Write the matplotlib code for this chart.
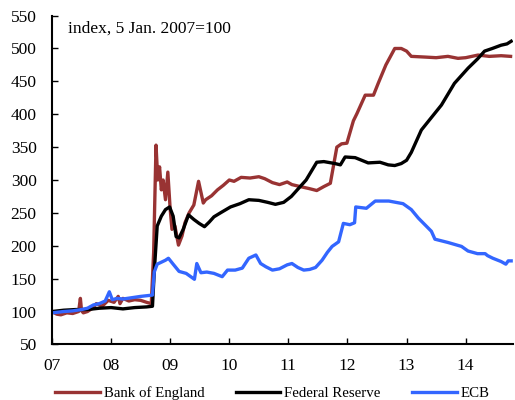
import matplotlib.pyplot as plt

plt.rcParams['font.family'] = ['Liberation Serif', 'DejaVu Serif']

# Central bank balance sheets, index 5 Jan. 2007 = 100
boe_t = [2007.00, 2007.08, 2007.15, 2007.25, 2007.35, 2007.45, 2007.48, 2007.50, 2007.53,
         2007.60, 2007.70, 2007.75, 2007.85, 2007.95, 2008.05, 2008.12, 2008.15, 2008.20,
         2008.30, 2008.40, 2008.50, 2008.60, 2008.68, 2008.72, 2008.76, 2008.79, 2008.82,
         2008.85, 2008.88, 2008.92, 2008.96, 2009.00, 2009.03, 2009.08, 2009.14, 2009.20,
         2009.25, 2009.32, 2009.40, 2009.48, 2009.56, 2009.60, 2009.70, 2009.80, 2009.90,
         2010.00, 2010.08, 2010.20, 2010.35, 2010.50, 2010.60, 2010.73, 2010.85, 2010.98,
         2011.06, 2011.20, 2011.35, 2011.48, 2011.60, 2011.71, 2011.76, 2011.82, 2011.90,
         2011.99, 2012.10, 2012.16, 2012.30, 2012.44, 2012.52, 2012.65, 2012.80, 2012.91,
         2013.00, 2013.08, 2013.30, 2013.50, 2013.70, 2013.87, 2014.00, 2014.21, 2014.40,
         2014.60, 2014.76]
boe_v = [100, 96, 95, 98, 97, 100, 120, 101, 98,
         100, 106, 112, 108, 117, 114, 123, 112, 120,
         116, 118, 117, 114, 112, 190, 353, 300, 320,
         285, 300, 270, 312, 255, 225, 230, 201, 215,
         235, 250, 262, 298, 265, 270, 276, 285, 292,
         300, 298, 304, 303, 305, 302, 296, 293, 297,
         293, 290, 287, 284, 290, 295, 320, 350, 355,
         356, 390, 401, 429, 429, 447, 475, 500, 500,
         496, 488, 487, 486, 488, 485, 486, 490, 488,
         489, 488]

fed_t = [2007.00, 2007.20, 2007.40, 2007.60, 2007.80, 2008.00, 2008.20, 2008.40, 2008.60,
         2008.70, 2008.73, 2008.78, 2008.85, 2008.92, 2008.99, 2009.05, 2009.10, 2009.15,
         2009.22, 2009.31, 2009.40, 2009.49, 2009.58, 2009.66, 2009.74, 2009.85, 2010.02,
         2010.18, 2010.33, 2010.50, 2010.65, 2010.78, 2010.92, 2011.05, 2011.15, 2011.30,
         2011.48, 2011.60, 2011.79, 2011.88, 2011.96, 2012.13, 2012.35, 2012.55, 2012.69,
         2012.80, 2012.91, 2013.00, 2013.08, 2013.25, 2013.42, 2013.59, 2013.81, 2014.04,
         2014.20, 2014.32, 2014.45, 2014.60, 2014.70, 2014.77]
fed_v = [100, 102, 103, 103, 105, 106, 104, 106, 107,
         108, 160, 230, 245, 255, 259, 245, 214, 212,
         225, 247, 240, 234, 229, 236, 244, 250, 259,
         264, 270, 269, 266, 263, 266, 275, 285, 300,
         327, 328, 325, 323, 335, 334, 326, 327, 323,
         322, 325, 330, 342, 376, 395, 414, 447, 470,
         484, 496, 500, 505, 507, 511]

ecb_t = [2007.00, 2007.10, 2007.20, 2007.35, 2007.50, 2007.60, 2007.70, 2007.80, 2007.90,
         2007.97, 2008.02, 2008.10, 2008.20, 2008.35, 2008.50, 2008.60, 2008.70, 2008.73,
         2008.78, 2008.85, 2008.92, 2008.97, 2009.05, 2009.15, 2009.27, 2009.41, 2009.45,
         2009.52, 2009.62, 2009.74, 2009.88, 2009.97, 2010.10, 2010.22, 2010.33, 2010.45,
         2010.53, 2010.62, 2010.73, 2010.85, 2010.98, 2011.06, 2011.16, 2011.26, 2011.36,
         2011.46, 2011.57, 2011.66, 2011.74, 2011.85, 2011.93, 2012.04, 2012.12, 2012.14,
         2012.32, 2012.47, 2012.70, 2012.94, 2013.08, 2013.20, 2013.42, 2013.48, 2013.70,
         2013.93, 2014.04, 2014.20, 2014.33, 2014.37, 2014.46, 2014.60, 2014.68, 2014.72,
         2014.77]
ecb_v = [98, 99, 100, 101, 103, 105, 110, 112, 116,
         130, 118, 120, 119, 121, 123, 124, 125, 160,
         172, 175, 178, 181, 172, 161, 158, 149, 173,
         159, 160, 158, 153, 163, 163, 166, 181, 186,
         173, 168, 163, 165, 171, 173, 167, 163, 164,
         167, 178, 190, 199, 206, 234, 232, 235, 259,
         257, 268, 268, 264, 255, 242, 222, 210, 205,
         199, 192, 188, 188, 185, 181, 176, 172, 177,
         177]

years = [2007, 2008, 2009, 2010, 2011, 2012, 2013, 2014]
year_labels = ['07', '08', '09', '10', '11', '12', '13', '14']

fig = plt.figure(figsize=(5.15, 4.0), dpi=100)
ax = fig.add_axes([0.101, 0.139, 0.895, 0.822])

lw = 2.4
ax.plot(boe_t, boe_v, color='#993333', lw=lw, label='Bank of England')
ax.plot(fed_t, fed_v, color='black', lw=lw, label='Federal Reserve')
ax.plot(ecb_t, ecb_v, color='#3366ff', lw=lw, label='ECB')

ax.set_xlim(2007, 2014.8)
ax.set_ylim(50, 550)
ax.set_yticks(range(50, 551, 50))
ax.set_xticks(years)
ax.set_xticklabels(year_labels)

for s in ['top', 'right']:
    ax.spines[s].set_visible(False)
for s in ['left', 'bottom']:
    ax.spines[s].set_linewidth(1.5)
ax.tick_params(direction='in', length=4, width=1, labelsize=12.5)
ax.tick_params(axis='x', pad=10)
ax.tick_params(axis='y', pad=11)

ax.text(0.035, 0.985, 'index, 5 Jan. 2007=100', transform=ax.transAxes,
        fontsize=12.5, va='top', ha='left')

fig.legend(loc='center', bbox_to_anchor=(0.529, 0.0175), ncol=3, frameon=False,
           fontsize=10.7, handlelength=3.0, columnspacing=2.1, handletextpad=0.27,
           borderpad=0.1)

fig.savefig('out.png', dpi=100)
